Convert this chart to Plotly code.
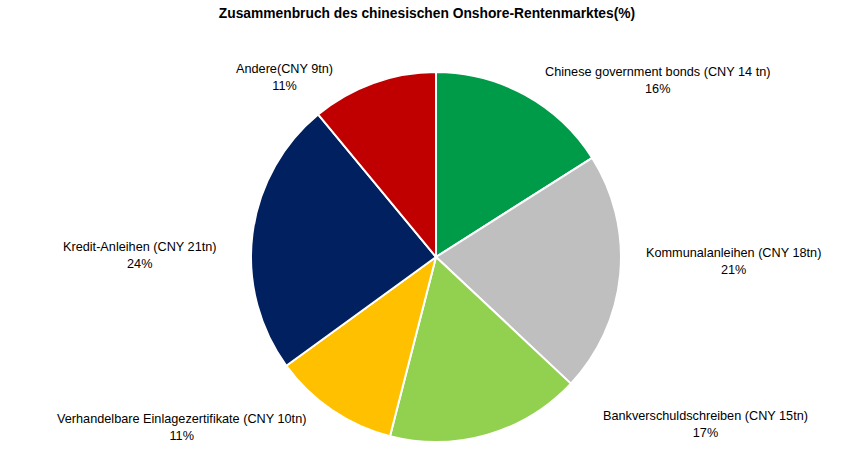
import plotly.graph_objects as go

categories = [
    "Chinese government bonds (CNY 14 tn)",
    "Kommunalanleihen (CNY 18tn)",
    "Bankverschuldschreiben (CNY 15tn)",
    "Verhandelbare Einlagezertifikate (CNY 10tn)",
    "Kredit-Anleihen (CNY 21tn)",
    "Andere(CNY 9tn)",
]
shares = [16, 21, 17, 11, 24, 11]
colors = ["#009B48", "#BFBFBF", "#92D050", "#FFC000", "#002060", "#C00000"]

# label anchor positions (paper coords, pixel based)
W, H = 847, 452
label_pos = [(657, 80), (733, 261), (705, 424), (181, 427), (140, 255), (284, 77)]

FONT = "Liberation Sans Narrow, Arial Narrow, Liberation Sans, Arial, sans-serif"

fig = go.Figure(go.Pie(
    values=shares,
    labels=categories,
    sort=False,
    direction="clockwise",
    rotation=0,
    textinfo="none",
    hoverinfo="label+percent",
    marker=dict(colors=colors, line=dict(color="white", width=2)),
    domain=dict(x=[(436 - 185) / W, (436 + 185) / W], y=[(H - 442) / H, (H - 72) / H]),
    showlegend=False,
))

annotations = []
for cat, s, (px, py) in zip(categories, shares, label_pos):
    annotations.append(dict(
        x=px / W, y=1 - py / H, xref="paper", yref="paper",
        text=f"{cat}<br>{s}%", showarrow=False, xanchor="center", yanchor="middle",
        font=dict(family=FONT, size=12.7, color="#000000"), align="center",
    ))

fig.update_layout(
    width=W, height=H,
    margin=dict(l=0, r=0, t=0, b=0),
    paper_bgcolor="white", plot_bgcolor="white",
    title=dict(text="<b>Zusammenbruch des chinesischen Onshore-Rentenmarktes(%)</b>",
               x=427 / W, xanchor="center", y=1 - 13 / H, yanchor="middle",
               font=dict(family=FONT, size=13.8, color="#000000")),
    annotations=annotations,
)

fig.write_html("out.html")
